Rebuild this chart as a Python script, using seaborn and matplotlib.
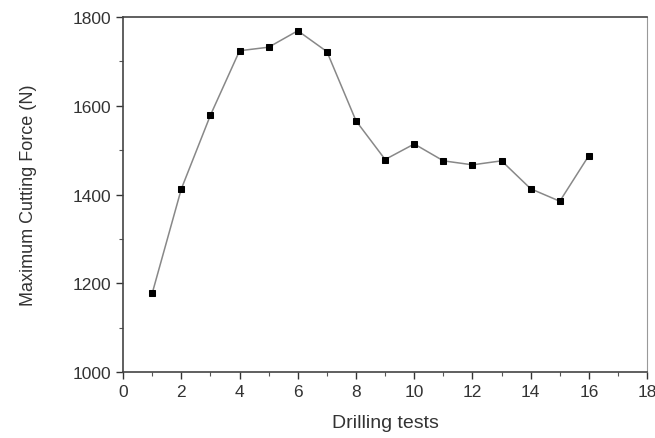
import numpy as np
import pandas as pd
import seaborn as sns
import matplotlib.pyplot as plt
from matplotlib.ticker import MultipleLocator

# values
tests = [1, 2, 3, 4, 5, 6, 7, 8, 9, 10, 11, 12, 13, 14, 15, 16]
force = [1178, 1413, 1579, 1724, 1732, 1769, 1722, 1566, 1479, 1514,
         1476, 1467, 1476, 1413, 1385, 1488]

df = pd.DataFrame({"test": tests, "force": force})

sns.set_style("ticks")
plt.rcParams['font.family'] = ['Liberation Sans', 'DejaVu Sans']

fig = plt.figure(figsize=(6.55, 4.39), dpi=100)
ax = fig.add_axes([0.188, 0.150, 0.800, 0.809])

sns.lineplot(data=df, x="test", y="force", ax=ax, color="#888888",
             linewidth=1.1, marker="s", markersize=5,
             markerfacecolor="black", markeredgecolor="black")

ax.set_xlim(0, 18)
ax.set_ylim(1000, 1800)
ax.xaxis.set_major_locator(MultipleLocator(2))
ax.xaxis.set_minor_locator(MultipleLocator(1))
ax.yaxis.set_major_locator(MultipleLocator(200))
ax.yaxis.set_minor_locator(MultipleLocator(100))
ax.tick_params(which="major", direction="out", length=5, width=1, labelsize=12.5, colors="#333333")
ax.tick_params(which="minor", direction="out", length=3, width=0.8, colors="#555555")

for s in ["left", "bottom", "top"]:
    ax.spines[s].set_color("#444444")
    ax.spines[s].set_linewidth(1.2)
ax.spines["right"].set_color("#999999")
ax.spines["right"].set_linewidth(0.8)

ax.set_xlabel("Drilling tests", fontsize=14, color="#333333")
ax.set_ylabel("Maximum Cutting Force (N)", fontsize=13, color="#333333")
ax.yaxis.set_label_coords(-0.165, 0.5)
ax.xaxis.set_label_coords(0.5, -0.118)

plt.savefig("out.png", dpi=100)
